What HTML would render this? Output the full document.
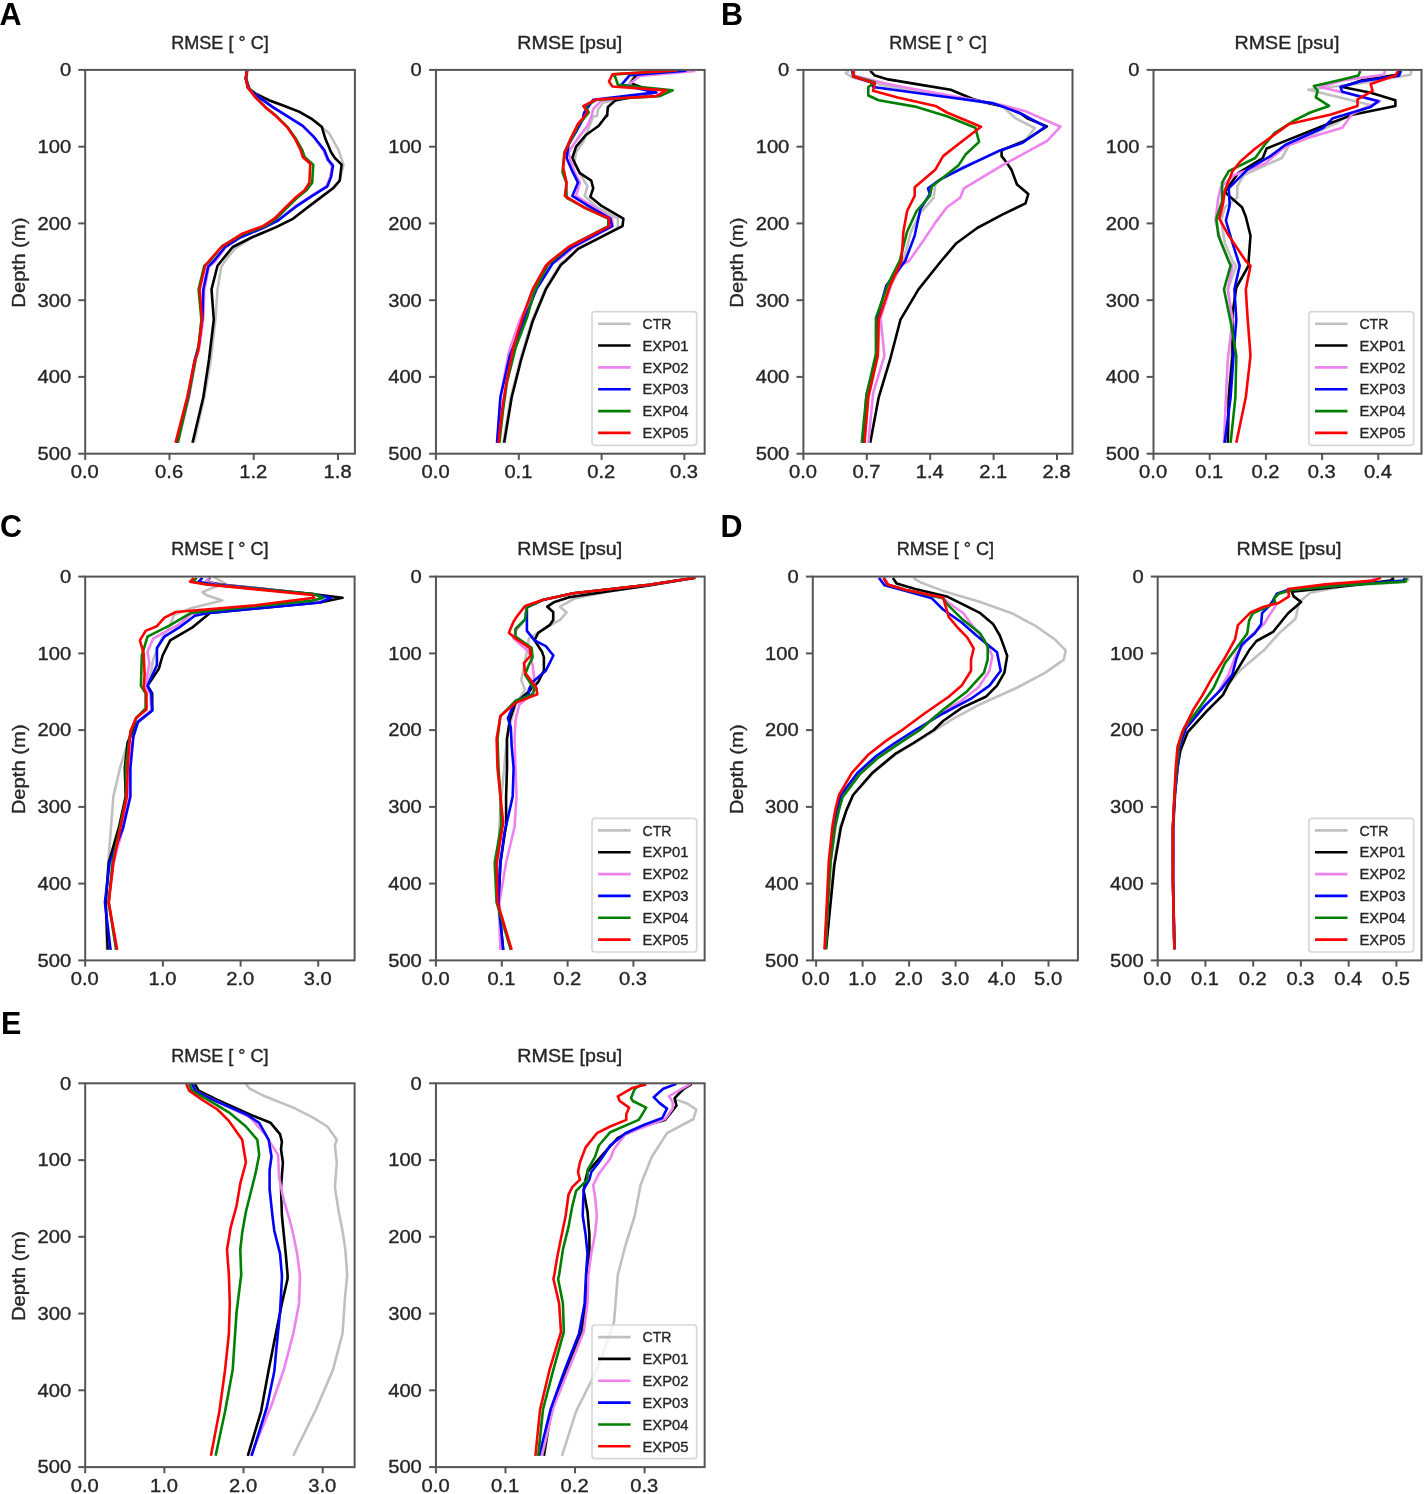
<!DOCTYPE html>
<html><head><meta charset="utf-8"><style>html,body{margin:0;padding:0;background:#fff;width:1426px;height:1494px;overflow:hidden}</style></head><body>
<svg width="1426" height="1494" viewBox="0 0 1426 1494" style="display:block;font-family:'Liberation Sans',sans-serif;will-change:transform">
<rect width="1426" height="1494" fill="#ffffff"/>
<text x="-0.6" y="24.5" font-size="30.5" font-weight="bold" fill="#000">A</text>
<text x="721.0" y="24.5" font-size="30.5" font-weight="bold" fill="#000">B</text>
<text x="0.0" y="537.4" font-size="30.5" font-weight="bold" fill="#000">C</text>
<text x="720.4" y="537.4" font-size="30.5" font-weight="bold" fill="#000">D</text>
<text x="1.0" y="1033.8" font-size="30.5" font-weight="bold" fill="#000">E</text>
<clipPath id="c_A_T"><rect x="85.2" y="69.9" width="269.7" height="383.8"/></clipPath>
<g clip-path="url(#c_A_T)" fill="none" stroke-width="2.6" stroke-linejoin="round" stroke-linecap="butt">
<path d="M247.5,70.9 L246.5,78.5 L248.8,87.9 L256.4,93.6 L269.6,100.2 L283.8,105.9 L300.8,112.5 L316.0,122.0 L329.2,133.4 L338.7,150.4 L343.5,164.6 L339.7,180.7 L333.0,188.3 L317.9,199.6 L306.5,208.2 L293.3,218.6 L276.2,227.1 L251.6,237.5 L234.6,248.9 L225.1,261.0 L221.3,266.7 L217.5,289.4 L215.6,317.8 L210.9,359.5 L204.3,397.3 L193.9,442.8" stroke="#c0c0c0"/>
<path d="M246.9,70.9 L245.9,78.5 L247.8,87.9 L255.4,93.6 L268.7,100.2 L281.9,105.0 L299.0,111.6 L312.2,119.2 L321.7,126.7 L325.5,139.1 L331.1,152.3 L334.9,158.0 L341.6,164.6 L339.7,180.7 L333.0,188.3 L317.9,199.6 L306.5,208.2 L293.3,218.6 L276.2,227.1 L251.6,237.5 L232.7,247.0 L221.3,261.0 L217.5,265.7 L211.5,289.4 L213.8,319.7 L209.0,359.5 L203.3,397.3 L192.5,442.8" stroke="#000000"/>
<path d="M246.9,70.9 L245.9,78.5 L249.7,89.8 L259.2,97.4 L272.4,106.9 L287.6,116.3 L302.7,125.8 L314.1,137.2 L323.6,150.4 L327.4,159.9 L332.1,165.6 L330.2,176.9 L326.4,186.4 L311.3,195.9 L294.2,207.2 L277.2,220.5 L262.0,228.0 L239.3,237.5 L225.1,247.9 L215.6,261.0 L209.0,266.7 L204.3,289.4 L203.3,317.8 L199.6,346.2 L195.8,359.5 L189.1,397.3 L177.8,442.8" stroke="#ee82ee"/>
<path d="M246.9,70.9 L245.9,78.5 L249.7,89.8 L259.2,97.4 L272.4,106.9 L287.6,116.3 L302.7,125.8 L314.1,137.2 L324.5,150.4 L328.3,159.9 L333.0,165.6 L331.1,176.9 L327.4,186.4 L312.2,195.9 L295.2,207.2 L278.1,220.5 L263.0,228.0 L240.3,237.5 L225.1,247.0 L213.8,261.0 L208.1,266.7 L203.3,289.4 L202.4,317.8 L198.6,346.2 L194.8,359.5 L188.2,397.3 L176.8,442.8" stroke="#0000ff"/>
<path d="M247.1,70.9 L245.8,78.5 L248.6,87.9 L255.8,97.4 L265.3,106.9 L276.6,116.3 L288.0,127.7 L296.1,139.1 L302.4,150.4 L304.6,157.0 L313.2,164.6 L312.2,182.6 L306.5,190.2 L297.1,197.8 L287.6,207.2 L276.2,218.6 L264.9,226.2 L244.0,233.7 L222.3,246.0 L210.0,261.0 L204.3,265.7 L198.6,289.4 L201.4,319.7 L198.6,346.2 L195.2,361.4 L188.2,397.3 L177.8,442.8" stroke="#008000"/>
<path d="M246.9,70.9 L245.6,78.5 L248.2,87.9 L255.4,97.4 L264.9,106.9 L276.2,116.3 L287.6,127.7 L295.2,139.1 L300.8,150.4 L302.7,157.0 L310.3,163.7 L309.4,182.6 L304.6,190.2 L295.2,197.8 L285.7,207.2 L274.3,218.6 L263.0,226.2 L242.2,233.7 L221.3,247.0 L209.0,261.0 L205.2,265.7 L199.6,289.4 L202.0,319.7 L198.0,351.9 L194.4,361.4 L187.2,397.3 L175.5,442.8" stroke="#ff0000"/>
</g>
<rect x="85.2" y="69.9" width="269.7" height="383.8" fill="none" stroke="#555555" stroke-width="2.0"/>
<line x1="78.3" y1="69.9" x2="85.2" y2="69.9" stroke="#555555" stroke-width="2.0"/>
<text x="71.1" y="76.2" font-size="17.6" text-anchor="end" fill="#262626" stroke="#262626" stroke-width="0.35" font-weight="normal" textLength="11.2" lengthAdjust="spacingAndGlyphs">0</text>
<line x1="78.3" y1="146.7" x2="85.2" y2="146.7" stroke="#555555" stroke-width="2.0"/>
<text x="71.1" y="153.0" font-size="17.6" text-anchor="end" fill="#262626" stroke="#262626" stroke-width="0.35" font-weight="normal" textLength="33.6" lengthAdjust="spacingAndGlyphs">100</text>
<line x1="78.3" y1="223.4" x2="85.2" y2="223.4" stroke="#555555" stroke-width="2.0"/>
<text x="71.1" y="229.7" font-size="17.6" text-anchor="end" fill="#262626" stroke="#262626" stroke-width="0.35" font-weight="normal" textLength="33.6" lengthAdjust="spacingAndGlyphs">200</text>
<line x1="78.3" y1="300.2" x2="85.2" y2="300.2" stroke="#555555" stroke-width="2.0"/>
<text x="71.1" y="306.5" font-size="17.6" text-anchor="end" fill="#262626" stroke="#262626" stroke-width="0.35" font-weight="normal" textLength="33.6" lengthAdjust="spacingAndGlyphs">300</text>
<line x1="78.3" y1="376.9" x2="85.2" y2="376.9" stroke="#555555" stroke-width="2.0"/>
<text x="71.1" y="383.2" font-size="17.6" text-anchor="end" fill="#262626" stroke="#262626" stroke-width="0.35" font-weight="normal" textLength="33.6" lengthAdjust="spacingAndGlyphs">400</text>
<line x1="78.3" y1="453.7" x2="85.2" y2="453.7" stroke="#555555" stroke-width="2.0"/>
<text x="71.1" y="460.0" font-size="17.6" text-anchor="end" fill="#262626" stroke="#262626" stroke-width="0.35" font-weight="normal" textLength="33.6" lengthAdjust="spacingAndGlyphs">500</text>
<line x1="85.2" y1="453.70000000000005" x2="85.2" y2="459.9" stroke="#555555" stroke-width="2.0"/>
<text x="84.8" y="478.1" font-size="17.6" text-anchor="middle" fill="#262626" stroke="#262626" stroke-width="0.35" font-weight="normal" textLength="28.0" lengthAdjust="spacingAndGlyphs">0.0</text>
<line x1="169.5" y1="453.70000000000005" x2="169.5" y2="459.9" stroke="#555555" stroke-width="2.0"/>
<text x="169.1" y="478.1" font-size="17.6" text-anchor="middle" fill="#262626" stroke="#262626" stroke-width="0.35" font-weight="normal" textLength="28.0" lengthAdjust="spacingAndGlyphs">0.6</text>
<line x1="253.7" y1="453.70000000000005" x2="253.7" y2="459.9" stroke="#555555" stroke-width="2.0"/>
<text x="253.3" y="478.1" font-size="17.6" text-anchor="middle" fill="#262626" stroke="#262626" stroke-width="0.35" font-weight="normal" textLength="28.0" lengthAdjust="spacingAndGlyphs">1.2</text>
<line x1="338.0" y1="453.70000000000005" x2="338.0" y2="459.9" stroke="#555555" stroke-width="2.0"/>
<text x="337.6" y="478.1" font-size="17.6" text-anchor="middle" fill="#262626" stroke="#262626" stroke-width="0.35" font-weight="normal" textLength="28.0" lengthAdjust="spacingAndGlyphs">1.8</text>
<text x="220.0" y="48.5" font-size="17.6" text-anchor="middle" fill="#262626" stroke="#262626" stroke-width="0.35" font-weight="normal" textLength="97.5" lengthAdjust="spacingAndGlyphs">RMSE [ ° C]</text>
<text x="0" y="0" font-size="17.6" fill="#262626" stroke="#262626" stroke-width="0.35" text-anchor="middle" textLength="90.1" lengthAdjust="spacingAndGlyphs" transform="translate(24.8,262.6) rotate(-90)">Depth (m)</text>
<clipPath id="c_A_S"><rect x="435.95" y="69.9" width="268.7" height="383.8"/></clipPath>
<g clip-path="url(#c_A_S)" fill="none" stroke-width="2.6" stroke-linejoin="round" stroke-linecap="butt">
<path d="M683.6,70.4 L634.3,75.6 L628.9,84.2 L654.4,92.4 L603.3,102.5 L597.9,109.8 L597.0,116.0 L593.2,116.3 L583.7,140.9 L576.1,152.3 L574.2,163.7 L581.8,176.9 L587.5,186.4 L584.6,195.9 L596.9,207.2 L617.8,218.6 L617.8,228.0 L578.0,248.9 L564.0,261.0 L560.0,264.8 L544.9,289.4 L531.6,321.6 L520.3,359.5 L510.8,397.3 L503.2,442.8" stroke="#c0c0c0"/>
<path d="M685.4,70.4 L636.2,75.1 L630.7,83.3 L655.3,92.4 L615.2,100.6 L607.9,107.0 L607.0,116.0 L607.4,114.4 L598.8,125.8 L585.6,135.3 L576.1,146.6 L572.3,158.0 L579.9,173.1 L591.3,180.7 L593.2,188.3 L590.3,196.8 L600.7,205.3 L623.4,218.6 L622.5,226.2 L578.0,248.9 L565.5,261.0 L561.0,264.8 L545.8,289.4 L532.6,321.6 L521.2,359.5 L511.7,397.3 L504.2,442.8" stroke="#000000"/>
<path d="M695.4,71.0 L639.8,76.0 L628.0,85.1 L657.1,92.4 L601.5,100.6 L593.3,108.8 L591.5,116.0 L587.5,125.8 L576.1,140.9 L568.5,152.3 L570.4,159.9 L574.2,171.2 L579.9,182.6 L576.1,195.9 L591.3,205.3 L612.1,218.6 L613.0,226.2 L574.2,247.0 L557.2,261.0 L549.6,263.8 L532.6,293.2 L519.3,321.6 L508.9,351.9 L500.4,397.3 L497.5,442.8" stroke="#ee82ee"/>
<path d="M686.3,70.6 L629.8,75.1 L621.6,84.7 L656.2,92.4 L593.3,99.7 L584.2,112.5 L583.3,116.0 L585.6,114.4 L576.1,131.5 L568.5,144.7 L566.6,158.0 L572.3,171.2 L578.0,182.6 L572.3,195.9 L587.5,205.3 L610.2,218.6 L612.1,226.2 L572.3,247.0 L555.3,261.0 L552.4,263.8 L536.4,289.4 L525.0,317.8 L509.8,355.7 L500.4,397.3 L497.0,442.8" stroke="#0000ff"/>
<path d="M677.6,70.4 L613.4,74.4 L615.2,76.9 L617.9,84.7 L672.6,90.4 L659.9,96.1 L597.0,99.7 L585.1,106.1 L588.8,112.5 L586.0,116.0 L579.0,123.9 L571.4,139.1 L564.4,152.3 L562.5,172.2 L566.3,182.6 L566.6,197.8 L583.7,207.2 L608.3,218.6 L608.3,226.2 L570.4,246.0 L552.4,261.0 L547.7,264.8 L534.5,291.3 L526.9,317.8 L515.5,348.1 L507.0,382.2 L503.2,408.7 L499.4,442.8" stroke="#008000"/>
<path d="M677.2,70.4 L612.5,74.2 L609.0,81.5 L612.5,86.5 L666.3,90.4 L656.2,96.1 L596.1,99.5 L583.3,106.1 L587.4,112.0 L584.7,116.0 L578.0,123.9 L570.4,139.1 L564.8,152.3 L563.2,167.5 L566.6,182.6 L564.8,195.9 L583.7,207.2 L609.2,218.6 L609.2,226.2 L568.5,247.0 L550.6,261.0 L545.8,265.7 L532.6,289.4 L523.1,315.9 L513.6,346.2 L506.1,384.1 L502.3,408.7 L498.5,442.8" stroke="#ff0000"/>
</g>
<rect x="435.95" y="69.9" width="268.7" height="383.8" fill="none" stroke="#555555" stroke-width="2.0"/>
<line x1="429.1" y1="69.9" x2="435.95" y2="69.9" stroke="#555555" stroke-width="2.0"/>
<text x="421.8" y="76.2" font-size="17.6" text-anchor="end" fill="#262626" stroke="#262626" stroke-width="0.35" font-weight="normal" textLength="11.2" lengthAdjust="spacingAndGlyphs">0</text>
<line x1="429.1" y1="146.7" x2="435.95" y2="146.7" stroke="#555555" stroke-width="2.0"/>
<text x="421.8" y="153.0" font-size="17.6" text-anchor="end" fill="#262626" stroke="#262626" stroke-width="0.35" font-weight="normal" textLength="33.6" lengthAdjust="spacingAndGlyphs">100</text>
<line x1="429.1" y1="223.4" x2="435.95" y2="223.4" stroke="#555555" stroke-width="2.0"/>
<text x="421.8" y="229.7" font-size="17.6" text-anchor="end" fill="#262626" stroke="#262626" stroke-width="0.35" font-weight="normal" textLength="33.6" lengthAdjust="spacingAndGlyphs">200</text>
<line x1="429.1" y1="300.2" x2="435.95" y2="300.2" stroke="#555555" stroke-width="2.0"/>
<text x="421.8" y="306.5" font-size="17.6" text-anchor="end" fill="#262626" stroke="#262626" stroke-width="0.35" font-weight="normal" textLength="33.6" lengthAdjust="spacingAndGlyphs">300</text>
<line x1="429.1" y1="376.9" x2="435.95" y2="376.9" stroke="#555555" stroke-width="2.0"/>
<text x="421.8" y="383.2" font-size="17.6" text-anchor="end" fill="#262626" stroke="#262626" stroke-width="0.35" font-weight="normal" textLength="33.6" lengthAdjust="spacingAndGlyphs">400</text>
<line x1="429.1" y1="453.7" x2="435.95" y2="453.7" stroke="#555555" stroke-width="2.0"/>
<text x="421.8" y="460.0" font-size="17.6" text-anchor="end" fill="#262626" stroke="#262626" stroke-width="0.35" font-weight="normal" textLength="33.6" lengthAdjust="spacingAndGlyphs">500</text>
<line x1="435.9" y1="453.70000000000005" x2="435.9" y2="459.9" stroke="#555555" stroke-width="2.0"/>
<text x="435.6" y="478.1" font-size="17.6" text-anchor="middle" fill="#262626" stroke="#262626" stroke-width="0.35" font-weight="normal" textLength="28.0" lengthAdjust="spacingAndGlyphs">0.0</text>
<line x1="518.8" y1="453.70000000000005" x2="518.8" y2="459.9" stroke="#555555" stroke-width="2.0"/>
<text x="518.4" y="478.1" font-size="17.6" text-anchor="middle" fill="#262626" stroke="#262626" stroke-width="0.35" font-weight="normal" textLength="28.0" lengthAdjust="spacingAndGlyphs">0.1</text>
<line x1="601.6" y1="453.70000000000005" x2="601.6" y2="459.9" stroke="#555555" stroke-width="2.0"/>
<text x="601.2" y="478.1" font-size="17.6" text-anchor="middle" fill="#262626" stroke="#262626" stroke-width="0.35" font-weight="normal" textLength="28.0" lengthAdjust="spacingAndGlyphs">0.2</text>
<line x1="684.4" y1="453.70000000000005" x2="684.4" y2="459.9" stroke="#555555" stroke-width="2.0"/>
<text x="684.0" y="478.1" font-size="17.6" text-anchor="middle" fill="#262626" stroke="#262626" stroke-width="0.35" font-weight="normal" textLength="28.0" lengthAdjust="spacingAndGlyphs">0.3</text>
<text x="569.8" y="48.5" font-size="17.6" text-anchor="middle" fill="#262626" stroke="#262626" stroke-width="0.35" font-weight="normal" textLength="105" lengthAdjust="spacingAndGlyphs">RMSE [psu]</text>
<rect x="592.0" y="311.6" width="104.7" height="133.7" rx="3" ry="3" fill="#ffffff" fill-opacity="0.8" stroke="#d8d8d8" stroke-width="1.7"/>
<line x1="598.1" y1="323.7" x2="630.6" y2="323.7" stroke="#c0c0c0" stroke-width="2.6"/>
<text x="642.5" y="328.9" font-size="14.4" text-anchor="start" fill="#262626" stroke="#262626" stroke-width="0.35" font-weight="normal" textLength="28.9" lengthAdjust="spacingAndGlyphs">CTR</text>
<line x1="598.1" y1="345.5" x2="630.6" y2="345.5" stroke="#000000" stroke-width="2.6"/>
<text x="642.5" y="350.7" font-size="14.4" text-anchor="start" fill="#262626" stroke="#262626" stroke-width="0.35" font-weight="normal" textLength="46.0" lengthAdjust="spacingAndGlyphs">EXP01</text>
<line x1="598.1" y1="367.4" x2="630.6" y2="367.4" stroke="#ee82ee" stroke-width="2.6"/>
<text x="642.5" y="372.6" font-size="14.4" text-anchor="start" fill="#262626" stroke="#262626" stroke-width="0.35" font-weight="normal" textLength="46.0" lengthAdjust="spacingAndGlyphs">EXP02</text>
<line x1="598.1" y1="389.2" x2="630.6" y2="389.2" stroke="#0000ff" stroke-width="2.6"/>
<text x="642.5" y="394.4" font-size="14.4" text-anchor="start" fill="#262626" stroke="#262626" stroke-width="0.35" font-weight="normal" textLength="46.0" lengthAdjust="spacingAndGlyphs">EXP03</text>
<line x1="598.1" y1="411.1" x2="630.6" y2="411.1" stroke="#008000" stroke-width="2.6"/>
<text x="642.5" y="416.3" font-size="14.4" text-anchor="start" fill="#262626" stroke="#262626" stroke-width="0.35" font-weight="normal" textLength="46.0" lengthAdjust="spacingAndGlyphs">EXP04</text>
<line x1="598.1" y1="432.9" x2="630.6" y2="432.9" stroke="#ff0000" stroke-width="2.6"/>
<text x="642.5" y="438.1" font-size="14.4" text-anchor="start" fill="#262626" stroke="#262626" stroke-width="0.35" font-weight="normal" textLength="46.0" lengthAdjust="spacingAndGlyphs">EXP05</text>
<clipPath id="c_B_T"><rect x="803.4" y="69.9" width="269.1" height="383.8"/></clipPath>
<g clip-path="url(#c_B_T)" fill="none" stroke-width="2.6" stroke-linejoin="round" stroke-linecap="butt">
<path d="M848.4,70.9 L845.6,73.2 L852.2,77.5 L886.3,86.0 L935.5,93.6 L1001.8,105.9 L1015.4,118.2 L1034.8,128.1 L1025.5,140.0 L1001.8,150.4 L962.0,167.5 L935.5,182.6 L933.6,197.8 L920.4,212.9 L910.9,231.8 L903.4,261.0 L891.0,285.6 L879.7,317.8 L877.8,355.7 L868.3,397.3 L864.5,442.8" stroke="#c0c0c0"/>
<path d="M870.2,70.9 L874.9,75.6 L888.2,79.4 L916.6,84.1 L950.7,89.8 L973.4,99.3 L989.9,103.6 L1004.5,106.7 L1020.2,113.1 L1027.2,118.2 L1046.9,126.4 L1023.6,141.5 L1001.6,150.2 L1001.6,156.1 L1006.2,162.0 L1011.3,169.4 L1017.0,184.5 L1028.3,194.0 L1025.5,203.4 L1001.8,214.8 L977.2,228.0 L956.4,243.2 L941.2,261.0 L918.5,289.4 L900.5,319.7 L890.1,359.5 L878.7,397.3 L870.2,442.8" stroke="#000000"/>
<path d="M854.1,70.9 L854.1,75.6 L884.4,83.2 L897.7,86.0 L1001.8,105.0 L1026.4,111.6 L1060.5,126.7 L1047.2,140.9 L1001.8,165.6 L963.9,188.3 L960.2,197.8 L946.9,207.2 L935.5,222.4 L924.2,239.4 L909.0,261.0 L901.5,264.8 L892.0,281.8 L880.6,317.8 L884.4,355.7 L873.1,393.5 L868.3,442.8" stroke="#ee82ee"/>
<path d="M852.2,70.9 L853.2,76.6 L871.2,82.3 L873.1,87.0 L935.5,95.5 L992.3,103.1 L1003.7,106.9 L1022.6,114.4 L1045.4,126.7 L1022.6,142.8 L999.9,150.4 L963.9,167.5 L941.2,178.8 L928.0,188.3 L929.9,194.0 L920.4,209.1 L914.7,235.6 L905.2,261.0 L886.3,285.6 L877.8,315.9 L876.8,355.7 L866.4,395.4 L863.6,442.8" stroke="#0000ff"/>
<path d="M853.2,70.9 L854.1,76.6 L874.9,82.3 L868.3,87.0 L868.3,95.5 L878.7,100.2 L916.6,106.9 L946.9,116.3 L975.3,127.7 L979.1,141.9 L965.8,154.2 L958.3,165.6 L931.8,186.4 L929.9,195.9 L916.6,211.0 L907.1,231.8 L899.6,261.0 L888.2,283.7 L875.9,317.8 L875.9,353.8 L866.4,395.4 L861.7,442.8" stroke="#008000"/>
<path d="M853.2,70.9 L853.2,76.6 L874.9,83.2 L873.1,90.8 L897.7,97.4 L935.5,105.9 L946.9,112.5 L981.0,126.7 L960.2,142.8 L943.1,156.1 L935.5,169.4 L914.7,187.3 L914.7,195.9 L907.1,211.0 L903.4,231.8 L901.5,261.0 L890.1,285.6 L878.7,319.7 L877.8,355.7 L868.3,397.3 L864.5,442.8" stroke="#ff0000"/>
</g>
<rect x="803.4" y="69.9" width="269.1" height="383.8" fill="none" stroke="#555555" stroke-width="2.0"/>
<line x1="796.5" y1="69.9" x2="803.4" y2="69.9" stroke="#555555" stroke-width="2.0"/>
<text x="789.3" y="76.2" font-size="17.6" text-anchor="end" fill="#262626" stroke="#262626" stroke-width="0.35" font-weight="normal" textLength="11.2" lengthAdjust="spacingAndGlyphs">0</text>
<line x1="796.5" y1="146.7" x2="803.4" y2="146.7" stroke="#555555" stroke-width="2.0"/>
<text x="789.3" y="153.0" font-size="17.6" text-anchor="end" fill="#262626" stroke="#262626" stroke-width="0.35" font-weight="normal" textLength="33.6" lengthAdjust="spacingAndGlyphs">100</text>
<line x1="796.5" y1="223.4" x2="803.4" y2="223.4" stroke="#555555" stroke-width="2.0"/>
<text x="789.3" y="229.7" font-size="17.6" text-anchor="end" fill="#262626" stroke="#262626" stroke-width="0.35" font-weight="normal" textLength="33.6" lengthAdjust="spacingAndGlyphs">200</text>
<line x1="796.5" y1="300.2" x2="803.4" y2="300.2" stroke="#555555" stroke-width="2.0"/>
<text x="789.3" y="306.5" font-size="17.6" text-anchor="end" fill="#262626" stroke="#262626" stroke-width="0.35" font-weight="normal" textLength="33.6" lengthAdjust="spacingAndGlyphs">300</text>
<line x1="796.5" y1="376.9" x2="803.4" y2="376.9" stroke="#555555" stroke-width="2.0"/>
<text x="789.3" y="383.2" font-size="17.6" text-anchor="end" fill="#262626" stroke="#262626" stroke-width="0.35" font-weight="normal" textLength="33.6" lengthAdjust="spacingAndGlyphs">400</text>
<line x1="796.5" y1="453.7" x2="803.4" y2="453.7" stroke="#555555" stroke-width="2.0"/>
<text x="789.3" y="460.0" font-size="17.6" text-anchor="end" fill="#262626" stroke="#262626" stroke-width="0.35" font-weight="normal" textLength="33.6" lengthAdjust="spacingAndGlyphs">500</text>
<line x1="803.4" y1="453.70000000000005" x2="803.4" y2="459.9" stroke="#555555" stroke-width="2.0"/>
<text x="803.0" y="478.1" font-size="17.6" text-anchor="middle" fill="#262626" stroke="#262626" stroke-width="0.35" font-weight="normal" textLength="28.0" lengthAdjust="spacingAndGlyphs">0.0</text>
<line x1="866.8" y1="453.70000000000005" x2="866.8" y2="459.9" stroke="#555555" stroke-width="2.0"/>
<text x="866.4" y="478.1" font-size="17.6" text-anchor="middle" fill="#262626" stroke="#262626" stroke-width="0.35" font-weight="normal" textLength="28.0" lengthAdjust="spacingAndGlyphs">0.7</text>
<line x1="930.2" y1="453.70000000000005" x2="930.2" y2="459.9" stroke="#555555" stroke-width="2.0"/>
<text x="929.8" y="478.1" font-size="17.6" text-anchor="middle" fill="#262626" stroke="#262626" stroke-width="0.35" font-weight="normal" textLength="28.0" lengthAdjust="spacingAndGlyphs">1.4</text>
<line x1="993.6" y1="453.70000000000005" x2="993.6" y2="459.9" stroke="#555555" stroke-width="2.0"/>
<text x="993.2" y="478.1" font-size="17.6" text-anchor="middle" fill="#262626" stroke="#262626" stroke-width="0.35" font-weight="normal" textLength="28.0" lengthAdjust="spacingAndGlyphs">2.1</text>
<line x1="1057.0" y1="453.70000000000005" x2="1057.0" y2="459.9" stroke="#555555" stroke-width="2.0"/>
<text x="1056.6" y="478.1" font-size="17.6" text-anchor="middle" fill="#262626" stroke="#262626" stroke-width="0.35" font-weight="normal" textLength="28.0" lengthAdjust="spacingAndGlyphs">2.8</text>
<text x="938.0" y="48.5" font-size="17.6" text-anchor="middle" fill="#262626" stroke="#262626" stroke-width="0.35" font-weight="normal" textLength="97.5" lengthAdjust="spacingAndGlyphs">RMSE [ ° C]</text>
<text x="0" y="0" font-size="17.6" fill="#262626" stroke="#262626" stroke-width="0.35" text-anchor="middle" textLength="90.1" lengthAdjust="spacingAndGlyphs" transform="translate(743.0,262.6) rotate(-90)">Depth (m)</text>
<clipPath id="c_B_S"><rect x="1153.5" y="69.9" width="268.0" height="383.8"/></clipPath>
<g clip-path="url(#c_B_S)" fill="none" stroke-width="2.6" stroke-linejoin="round" stroke-linecap="butt">
<path d="M1411.5,70.9 L1410.5,74.7 L1361.3,83.2 L1308.3,89.8 L1370.7,105.0 L1349.9,114.4 L1338.6,122.0 L1289.3,144.7 L1281.8,158.0 L1243.9,175.0 L1237.3,186.4 L1237.3,197.8 L1224.9,207.2 L1221.2,220.5 L1224.9,243.2 L1232.5,261.0 L1236.3,265.7 L1227.8,289.4 L1232.5,319.7 L1231.6,355.7 L1228.7,397.3 L1227.8,442.8" stroke="#c0c0c0"/>
<path d="M1399.1,70.9 L1397.2,74.7 L1361.3,80.4 L1342.3,87.0 L1370.7,92.7 L1395.4,100.2 L1395.4,105.9 L1353.7,114.4 L1323.4,125.8 L1285.5,140.9 L1266.6,148.5 L1262.8,158.0 L1238.2,173.1 L1224.9,192.1 L1242.0,207.2 L1245.8,216.7 L1250.5,235.6 L1248.6,261.0 L1248.6,265.7 L1236.3,287.5 L1232.5,314.0 L1232.5,355.7 L1228.7,397.3 L1227.8,442.8" stroke="#000000"/>
<path d="M1384.9,70.9 L1384.0,74.7 L1342.3,80.4 L1319.6,87.0 L1340.4,91.7 L1380.2,101.2 L1351.8,114.4 L1342.3,127.7 L1310.2,137.2 L1285.5,146.6 L1264.7,163.7 L1234.4,175.0 L1221.2,186.4 L1218.3,197.8 L1215.5,220.5 L1221.2,243.2 L1228.7,261.0 L1232.5,265.7 L1227.8,289.4 L1232.5,319.7 L1227.8,359.5 L1225.9,397.3 L1224.0,442.8" stroke="#ee82ee"/>
<path d="M1401.0,70.9 L1399.1,75.6 L1361.3,81.3 L1340.4,87.0 L1342.3,91.7 L1378.3,101.2 L1370.7,106.9 L1332.9,118.2 L1323.4,127.7 L1285.5,144.7 L1270.4,156.1 L1247.7,169.4 L1228.7,188.3 L1229.7,205.3 L1225.9,220.5 L1232.5,243.2 L1238.2,261.0 L1239.7,265.7 L1234.4,289.4 L1236.3,319.7 L1233.5,355.7 L1230.6,397.3 L1224.6,442.8" stroke="#0000ff"/>
<path d="M1360.3,70.9 L1358.4,75.6 L1342.3,79.4 L1313.9,86.0 L1317.7,90.8 L1315.8,97.4 L1329.1,105.9 L1310.2,112.5 L1295.0,120.1 L1274.2,133.4 L1264.7,144.7 L1255.2,158.0 L1228.7,171.2 L1222.1,182.6 L1222.1,201.5 L1216.4,218.6 L1218.3,235.6 L1228.7,261.0 L1230.6,265.7 L1224.0,289.4 L1230.6,321.6 L1236.3,355.7 L1235.4,397.3 L1230.6,442.8" stroke="#008000"/>
<path d="M1398.2,70.9 L1395.4,75.6 L1370.7,84.1 L1372.6,90.8 L1357.5,99.3 L1357.5,105.9 L1331.0,114.4 L1289.3,123.9 L1276.1,133.4 L1255.2,148.5 L1240.1,161.8 L1232.5,171.2 L1224.9,190.2 L1223.1,203.4 L1219.3,218.6 L1228.7,235.6 L1245.8,261.0 L1250.5,265.7 L1245.8,289.4 L1247.7,319.7 L1250.5,355.7 L1245.8,397.3 L1236.3,442.8" stroke="#ff0000"/>
</g>
<rect x="1153.5" y="69.9" width="268.0" height="383.8" fill="none" stroke="#555555" stroke-width="2.0"/>
<line x1="1146.6" y1="69.9" x2="1153.5" y2="69.9" stroke="#555555" stroke-width="2.0"/>
<text x="1139.4" y="76.2" font-size="17.6" text-anchor="end" fill="#262626" stroke="#262626" stroke-width="0.35" font-weight="normal" textLength="11.2" lengthAdjust="spacingAndGlyphs">0</text>
<line x1="1146.6" y1="146.7" x2="1153.5" y2="146.7" stroke="#555555" stroke-width="2.0"/>
<text x="1139.4" y="153.0" font-size="17.6" text-anchor="end" fill="#262626" stroke="#262626" stroke-width="0.35" font-weight="normal" textLength="33.6" lengthAdjust="spacingAndGlyphs">100</text>
<line x1="1146.6" y1="223.4" x2="1153.5" y2="223.4" stroke="#555555" stroke-width="2.0"/>
<text x="1139.4" y="229.7" font-size="17.6" text-anchor="end" fill="#262626" stroke="#262626" stroke-width="0.35" font-weight="normal" textLength="33.6" lengthAdjust="spacingAndGlyphs">200</text>
<line x1="1146.6" y1="300.2" x2="1153.5" y2="300.2" stroke="#555555" stroke-width="2.0"/>
<text x="1139.4" y="306.5" font-size="17.6" text-anchor="end" fill="#262626" stroke="#262626" stroke-width="0.35" font-weight="normal" textLength="33.6" lengthAdjust="spacingAndGlyphs">300</text>
<line x1="1146.6" y1="376.9" x2="1153.5" y2="376.9" stroke="#555555" stroke-width="2.0"/>
<text x="1139.4" y="383.2" font-size="17.6" text-anchor="end" fill="#262626" stroke="#262626" stroke-width="0.35" font-weight="normal" textLength="33.6" lengthAdjust="spacingAndGlyphs">400</text>
<line x1="1146.6" y1="453.7" x2="1153.5" y2="453.7" stroke="#555555" stroke-width="2.0"/>
<text x="1139.4" y="460.0" font-size="17.6" text-anchor="end" fill="#262626" stroke="#262626" stroke-width="0.35" font-weight="normal" textLength="33.6" lengthAdjust="spacingAndGlyphs">500</text>
<line x1="1153.5" y1="453.70000000000005" x2="1153.5" y2="459.9" stroke="#555555" stroke-width="2.0"/>
<text x="1153.1" y="478.1" font-size="17.6" text-anchor="middle" fill="#262626" stroke="#262626" stroke-width="0.35" font-weight="normal" textLength="28.0" lengthAdjust="spacingAndGlyphs">0.0</text>
<line x1="1209.7" y1="453.70000000000005" x2="1209.7" y2="459.9" stroke="#555555" stroke-width="2.0"/>
<text x="1209.3" y="478.1" font-size="17.6" text-anchor="middle" fill="#262626" stroke="#262626" stroke-width="0.35" font-weight="normal" textLength="28.0" lengthAdjust="spacingAndGlyphs">0.1</text>
<line x1="1265.9" y1="453.70000000000005" x2="1265.9" y2="459.9" stroke="#555555" stroke-width="2.0"/>
<text x="1265.5" y="478.1" font-size="17.6" text-anchor="middle" fill="#262626" stroke="#262626" stroke-width="0.35" font-weight="normal" textLength="28.0" lengthAdjust="spacingAndGlyphs">0.2</text>
<line x1="1322.1" y1="453.70000000000005" x2="1322.1" y2="459.9" stroke="#555555" stroke-width="2.0"/>
<text x="1321.7" y="478.1" font-size="17.6" text-anchor="middle" fill="#262626" stroke="#262626" stroke-width="0.35" font-weight="normal" textLength="28.0" lengthAdjust="spacingAndGlyphs">0.3</text>
<line x1="1378.3" y1="453.70000000000005" x2="1378.3" y2="459.9" stroke="#555555" stroke-width="2.0"/>
<text x="1377.9" y="478.1" font-size="17.6" text-anchor="middle" fill="#262626" stroke="#262626" stroke-width="0.35" font-weight="normal" textLength="28.0" lengthAdjust="spacingAndGlyphs">0.4</text>
<text x="1287.0" y="48.5" font-size="17.6" text-anchor="middle" fill="#262626" stroke="#262626" stroke-width="0.35" font-weight="normal" textLength="105" lengthAdjust="spacingAndGlyphs">RMSE [psu]</text>
<rect x="1308.9" y="311.6" width="104.7" height="133.7" rx="3" ry="3" fill="#ffffff" fill-opacity="0.8" stroke="#d8d8d8" stroke-width="1.7"/>
<line x1="1315.0" y1="323.7" x2="1347.5" y2="323.7" stroke="#c0c0c0" stroke-width="2.6"/>
<text x="1359.4" y="328.9" font-size="14.4" text-anchor="start" fill="#262626" stroke="#262626" stroke-width="0.35" font-weight="normal" textLength="28.9" lengthAdjust="spacingAndGlyphs">CTR</text>
<line x1="1315.0" y1="345.5" x2="1347.5" y2="345.5" stroke="#000000" stroke-width="2.6"/>
<text x="1359.4" y="350.7" font-size="14.4" text-anchor="start" fill="#262626" stroke="#262626" stroke-width="0.35" font-weight="normal" textLength="46.0" lengthAdjust="spacingAndGlyphs">EXP01</text>
<line x1="1315.0" y1="367.4" x2="1347.5" y2="367.4" stroke="#ee82ee" stroke-width="2.6"/>
<text x="1359.4" y="372.6" font-size="14.4" text-anchor="start" fill="#262626" stroke="#262626" stroke-width="0.35" font-weight="normal" textLength="46.0" lengthAdjust="spacingAndGlyphs">EXP02</text>
<line x1="1315.0" y1="389.2" x2="1347.5" y2="389.2" stroke="#0000ff" stroke-width="2.6"/>
<text x="1359.4" y="394.4" font-size="14.4" text-anchor="start" fill="#262626" stroke="#262626" stroke-width="0.35" font-weight="normal" textLength="46.0" lengthAdjust="spacingAndGlyphs">EXP03</text>
<line x1="1315.0" y1="411.1" x2="1347.5" y2="411.1" stroke="#008000" stroke-width="2.6"/>
<text x="1359.4" y="416.3" font-size="14.4" text-anchor="start" fill="#262626" stroke="#262626" stroke-width="0.35" font-weight="normal" textLength="46.0" lengthAdjust="spacingAndGlyphs">EXP04</text>
<line x1="1315.0" y1="432.9" x2="1347.5" y2="432.9" stroke="#ff0000" stroke-width="2.6"/>
<text x="1359.4" y="438.1" font-size="14.4" text-anchor="start" fill="#262626" stroke="#262626" stroke-width="0.35" font-weight="normal" textLength="46.0" lengthAdjust="spacingAndGlyphs">EXP05</text>
<clipPath id="c_C_T"><rect x="85.2" y="576.6" width="269.4" height="383.8"/></clipPath>
<g clip-path="url(#c_C_T)" fill="none" stroke-width="2.6" stroke-linejoin="round" stroke-linecap="butt">
<path d="M213.8,576.9 L225.1,583.6 L213.8,587.4 L202.4,592.1 L206.2,594.9 L222.3,600.6 L191.0,608.2 L174.0,614.8 L170.2,625.2 L160.7,640.4 L153.2,659.3 L151.3,670.7 L147.5,685.8 L151.3,693.4 L151.3,710.4 L137.1,721.8 L128.5,740.7 L120.0,768.0 L113.4,796.4 L108.7,857.0 L105.8,902.4 L106.8,949.8" stroke="#c0c0c0"/>
<path d="M210.0,577.9 L206.2,581.7 L221.3,584.5 L312.2,594.0 L342.5,597.8 L319.8,602.5 L210.0,612.9 L192.9,627.1 L170.2,640.4 L162.6,655.5 L158.8,668.8 L147.5,685.8 L152.2,693.4 L152.2,710.4 L136.1,723.7 L127.6,742.6 L124.8,768.0 L125.7,796.4 L119.1,826.7 L108.7,862.7 L105.8,902.4 L107.7,949.8" stroke="#000000"/>
<path d="M209.0,577.9 L206.2,581.7 L217.5,584.5 L312.2,594.0 L323.6,597.8 L312.2,601.6 L191.0,613.9 L183.5,620.5 L177.8,625.2 L153.2,638.5 L147.5,651.7 L149.4,663.1 L145.6,685.8 L150.3,693.4 L151.3,710.4 L138.0,721.8 L133.3,736.9 L129.5,768.0 L127.6,796.4 L122.9,828.6 L113.4,862.7 L108.7,902.4 L116.2,949.8" stroke="#ee82ee"/>
<path d="M202.4,577.9 L198.6,581.7 L213.8,584.5 L312.2,594.0 L331.1,597.8 L319.8,602.5 L208.1,612.9 L194.8,615.8 L179.7,627.1 L164.5,636.6 L156.9,647.9 L156.9,665.0 L147.5,685.8 L151.3,693.4 L152.2,710.4 L138.0,721.8 L133.3,736.9 L130.4,768.0 L130.4,796.4 L122.9,828.6 L109.6,862.7 L104.9,902.4 L110.6,949.8" stroke="#0000ff"/>
<path d="M196.7,577.9 L192.9,581.7 L208.1,584.5 L314.1,594.0 L323.6,597.8 L312.2,600.6 L191.0,612.9 L170.2,625.2 L147.5,636.6 L141.8,655.5 L140.9,685.8 L145.6,693.4 L145.6,708.5 L136.1,718.0 L129.5,736.9 L125.7,768.0 L126.3,796.4 L120.0,826.7 L112.5,862.7 L108.7,902.4 L116.2,949.8" stroke="#008000"/>
<path d="M193.9,577.9 L190.1,581.7 L206.2,584.5 L236.5,587.4 L312.2,594.9 L314.1,597.8 L255.4,605.3 L175.9,612.0 L164.5,617.7 L156.9,626.2 L145.6,630.9 L139.9,640.4 L143.7,653.6 L144.6,674.5 L143.7,687.7 L146.5,693.4 L146.5,709.5 L136.1,718.0 L130.4,731.3 L127.6,768.0 L126.7,796.4 L121.0,824.8 L113.4,862.7 L108.7,902.4 L117.2,949.8" stroke="#ff0000"/>
</g>
<rect x="85.2" y="576.6" width="269.4" height="383.8" fill="none" stroke="#555555" stroke-width="2.0"/>
<line x1="78.3" y1="576.6" x2="85.2" y2="576.6" stroke="#555555" stroke-width="2.0"/>
<text x="71.1" y="582.9" font-size="17.6" text-anchor="end" fill="#262626" stroke="#262626" stroke-width="0.35" font-weight="normal" textLength="11.2" lengthAdjust="spacingAndGlyphs">0</text>
<line x1="78.3" y1="653.4" x2="85.2" y2="653.4" stroke="#555555" stroke-width="2.0"/>
<text x="71.1" y="659.7" font-size="17.6" text-anchor="end" fill="#262626" stroke="#262626" stroke-width="0.35" font-weight="normal" textLength="33.6" lengthAdjust="spacingAndGlyphs">100</text>
<line x1="78.3" y1="730.1" x2="85.2" y2="730.1" stroke="#555555" stroke-width="2.0"/>
<text x="71.1" y="736.4" font-size="17.6" text-anchor="end" fill="#262626" stroke="#262626" stroke-width="0.35" font-weight="normal" textLength="33.6" lengthAdjust="spacingAndGlyphs">200</text>
<line x1="78.3" y1="806.9" x2="85.2" y2="806.9" stroke="#555555" stroke-width="2.0"/>
<text x="71.1" y="813.2" font-size="17.6" text-anchor="end" fill="#262626" stroke="#262626" stroke-width="0.35" font-weight="normal" textLength="33.6" lengthAdjust="spacingAndGlyphs">300</text>
<line x1="78.3" y1="883.6" x2="85.2" y2="883.6" stroke="#555555" stroke-width="2.0"/>
<text x="71.1" y="889.9" font-size="17.6" text-anchor="end" fill="#262626" stroke="#262626" stroke-width="0.35" font-weight="normal" textLength="33.6" lengthAdjust="spacingAndGlyphs">400</text>
<line x1="78.3" y1="960.4" x2="85.2" y2="960.4" stroke="#555555" stroke-width="2.0"/>
<text x="71.1" y="966.7" font-size="17.6" text-anchor="end" fill="#262626" stroke="#262626" stroke-width="0.35" font-weight="normal" textLength="33.6" lengthAdjust="spacingAndGlyphs">500</text>
<line x1="85.2" y1="960.4000000000001" x2="85.2" y2="966.6" stroke="#555555" stroke-width="2.0"/>
<text x="84.8" y="984.8" font-size="17.6" text-anchor="middle" fill="#262626" stroke="#262626" stroke-width="0.35" font-weight="normal" textLength="28.0" lengthAdjust="spacingAndGlyphs">0.0</text>
<line x1="162.9" y1="960.4000000000001" x2="162.9" y2="966.6" stroke="#555555" stroke-width="2.0"/>
<text x="162.5" y="984.8" font-size="17.6" text-anchor="middle" fill="#262626" stroke="#262626" stroke-width="0.35" font-weight="normal" textLength="28.0" lengthAdjust="spacingAndGlyphs">1.0</text>
<line x1="240.6" y1="960.4000000000001" x2="240.6" y2="966.6" stroke="#555555" stroke-width="2.0"/>
<text x="240.2" y="984.8" font-size="17.6" text-anchor="middle" fill="#262626" stroke="#262626" stroke-width="0.35" font-weight="normal" textLength="28.0" lengthAdjust="spacingAndGlyphs">2.0</text>
<line x1="318.2" y1="960.4000000000001" x2="318.2" y2="966.6" stroke="#555555" stroke-width="2.0"/>
<text x="317.8" y="984.8" font-size="17.6" text-anchor="middle" fill="#262626" stroke="#262626" stroke-width="0.35" font-weight="normal" textLength="28.0" lengthAdjust="spacingAndGlyphs">3.0</text>
<text x="219.9" y="555.2" font-size="17.6" text-anchor="middle" fill="#262626" stroke="#262626" stroke-width="0.35" font-weight="normal" textLength="97.5" lengthAdjust="spacingAndGlyphs">RMSE [ ° C]</text>
<text x="0" y="0" font-size="17.6" fill="#262626" stroke="#262626" stroke-width="0.35" text-anchor="middle" textLength="90.1" lengthAdjust="spacingAndGlyphs" transform="translate(24.8,769.3) rotate(-90)">Depth (m)</text>
<clipPath id="c_C_S"><rect x="435.95" y="576.6" width="268.7" height="383.8"/></clipPath>
<g clip-path="url(#c_C_S)" fill="none" stroke-width="2.6" stroke-linejoin="round" stroke-linecap="butt">
<path d="M695.2,577.7 L649.0,585.5 L609.2,591.5 L574.6,598.5 L560.0,606.7 L566.6,612.5 L560.0,619.9 L543.9,629.0 L528.8,638.5 L526.9,651.7 L523.1,670.7 L521.2,680.1 L525.0,689.6 L515.5,704.8 L511.7,718.0 L507.0,736.9 L504.2,768.0 L501.3,796.4 L499.4,824.8 L498.5,862.7 L498.5,902.4 L500.4,949.8" stroke="#c0c0c0"/>
<path d="M695.2,577.7 L649.0,585.5 L609.2,591.1 L569.3,597.2 L554.5,601.9 L547.3,606.7 L553.2,612.0 L553.2,619.9 L549.6,625.2 L538.2,632.8 L534.5,640.4 L542.0,651.7 L543.9,657.4 L543.9,670.7 L538.2,682.0 L528.8,691.5 L515.5,702.9 L509.8,719.9 L507.0,738.8 L507.0,768.0 L506.1,796.4 L506.1,824.8 L500.4,862.7 L498.5,902.4 L503.2,949.8" stroke="#000000"/>
<path d="M695.2,577.7 L649.0,584.7 L609.2,589.3 L573.3,593.2 L542.6,600.0 L526.5,607.2 L525.0,619.5 L515.5,630.9 L513.6,638.5 L528.8,651.7 L532.6,665.0 L534.5,682.0 L532.6,693.4 L519.3,704.8 L515.5,719.9 L514.6,738.8 L515.5,768.0 L516.5,796.4 L514.6,826.7 L506.1,862.7 L499.4,902.4 L500.4,949.8" stroke="#ee82ee"/>
<path d="M695.2,577.7 L649.0,584.7 L609.2,589.3 L573.3,593.2 L542.6,600.0 L526.9,607.2 L526.9,630.9 L534.5,640.4 L545.8,646.1 L553.4,655.5 L545.8,670.7 L532.6,682.0 L528.8,689.6 L528.8,695.3 L515.5,701.0 L507.9,718.0 L510.8,727.5 L511.7,746.4 L513.6,768.0 L512.7,796.4 L504.2,834.3 L500.4,862.7 L498.5,902.4 L503.2,949.8" stroke="#0000ff"/>
<path d="M695.2,577.7 L649.0,584.7 L609.2,589.3 L573.3,593.2 L542.6,600.0 L526.9,607.2 L525.0,619.5 L515.5,629.0 L515.5,636.6 L531.6,647.9 L532.6,657.4 L528.8,665.0 L525.0,674.5 L534.5,689.6 L532.6,694.3 L515.5,701.0 L500.4,716.1 L497.5,738.8 L498.5,768.0 L500.4,796.4 L501.3,824.8 L494.7,862.7 L496.6,902.4 L510.8,949.8" stroke="#008000"/>
<path d="M695.2,577.7 L649.0,584.7 L609.2,589.3 L573.3,593.2 L542.6,600.0 L525.2,605.9 L517.4,615.8 L513.6,621.4 L508.9,632.8 L515.5,638.5 L529.7,647.9 L530.7,655.5 L524.0,663.1 L525.0,672.6 L536.4,687.7 L537.3,694.3 L515.5,702.9 L500.4,716.1 L496.6,738.8 L497.5,768.0 L500.4,796.4 L503.2,822.9 L496.6,862.7 L497.5,902.4 L511.7,949.8" stroke="#ff0000"/>
</g>
<rect x="435.95" y="576.6" width="268.7" height="383.8" fill="none" stroke="#555555" stroke-width="2.0"/>
<line x1="429.1" y1="576.6" x2="435.95" y2="576.6" stroke="#555555" stroke-width="2.0"/>
<text x="421.8" y="582.9" font-size="17.6" text-anchor="end" fill="#262626" stroke="#262626" stroke-width="0.35" font-weight="normal" textLength="11.2" lengthAdjust="spacingAndGlyphs">0</text>
<line x1="429.1" y1="653.4" x2="435.95" y2="653.4" stroke="#555555" stroke-width="2.0"/>
<text x="421.8" y="659.7" font-size="17.6" text-anchor="end" fill="#262626" stroke="#262626" stroke-width="0.35" font-weight="normal" textLength="33.6" lengthAdjust="spacingAndGlyphs">100</text>
<line x1="429.1" y1="730.1" x2="435.95" y2="730.1" stroke="#555555" stroke-width="2.0"/>
<text x="421.8" y="736.4" font-size="17.6" text-anchor="end" fill="#262626" stroke="#262626" stroke-width="0.35" font-weight="normal" textLength="33.6" lengthAdjust="spacingAndGlyphs">200</text>
<line x1="429.1" y1="806.9" x2="435.95" y2="806.9" stroke="#555555" stroke-width="2.0"/>
<text x="421.8" y="813.2" font-size="17.6" text-anchor="end" fill="#262626" stroke="#262626" stroke-width="0.35" font-weight="normal" textLength="33.6" lengthAdjust="spacingAndGlyphs">300</text>
<line x1="429.1" y1="883.6" x2="435.95" y2="883.6" stroke="#555555" stroke-width="2.0"/>
<text x="421.8" y="889.9" font-size="17.6" text-anchor="end" fill="#262626" stroke="#262626" stroke-width="0.35" font-weight="normal" textLength="33.6" lengthAdjust="spacingAndGlyphs">400</text>
<line x1="429.1" y1="960.4" x2="435.95" y2="960.4" stroke="#555555" stroke-width="2.0"/>
<text x="421.8" y="966.7" font-size="17.6" text-anchor="end" fill="#262626" stroke="#262626" stroke-width="0.35" font-weight="normal" textLength="33.6" lengthAdjust="spacingAndGlyphs">500</text>
<line x1="435.9" y1="960.4000000000001" x2="435.9" y2="966.6" stroke="#555555" stroke-width="2.0"/>
<text x="435.6" y="984.8" font-size="17.6" text-anchor="middle" fill="#262626" stroke="#262626" stroke-width="0.35" font-weight="normal" textLength="28.0" lengthAdjust="spacingAndGlyphs">0.0</text>
<line x1="501.8" y1="960.4000000000001" x2="501.8" y2="966.6" stroke="#555555" stroke-width="2.0"/>
<text x="501.4" y="984.8" font-size="17.6" text-anchor="middle" fill="#262626" stroke="#262626" stroke-width="0.35" font-weight="normal" textLength="28.0" lengthAdjust="spacingAndGlyphs">0.1</text>
<line x1="567.6" y1="960.4000000000001" x2="567.6" y2="966.6" stroke="#555555" stroke-width="2.0"/>
<text x="567.2" y="984.8" font-size="17.6" text-anchor="middle" fill="#262626" stroke="#262626" stroke-width="0.35" font-weight="normal" textLength="28.0" lengthAdjust="spacingAndGlyphs">0.2</text>
<line x1="633.4" y1="960.4000000000001" x2="633.4" y2="966.6" stroke="#555555" stroke-width="2.0"/>
<text x="633.0" y="984.8" font-size="17.6" text-anchor="middle" fill="#262626" stroke="#262626" stroke-width="0.35" font-weight="normal" textLength="28.0" lengthAdjust="spacingAndGlyphs">0.3</text>
<text x="569.8" y="555.2" font-size="17.6" text-anchor="middle" fill="#262626" stroke="#262626" stroke-width="0.35" font-weight="normal" textLength="105" lengthAdjust="spacingAndGlyphs">RMSE [psu]</text>
<rect x="592.0" y="818.3" width="104.7" height="133.7" rx="3" ry="3" fill="#ffffff" fill-opacity="0.8" stroke="#d8d8d8" stroke-width="1.7"/>
<line x1="598.1" y1="830.4" x2="630.6" y2="830.4" stroke="#c0c0c0" stroke-width="2.6"/>
<text x="642.5" y="835.6" font-size="14.4" text-anchor="start" fill="#262626" stroke="#262626" stroke-width="0.35" font-weight="normal" textLength="28.9" lengthAdjust="spacingAndGlyphs">CTR</text>
<line x1="598.1" y1="852.2" x2="630.6" y2="852.2" stroke="#000000" stroke-width="2.6"/>
<text x="642.5" y="857.4" font-size="14.4" text-anchor="start" fill="#262626" stroke="#262626" stroke-width="0.35" font-weight="normal" textLength="46.0" lengthAdjust="spacingAndGlyphs">EXP01</text>
<line x1="598.1" y1="874.1" x2="630.6" y2="874.1" stroke="#ee82ee" stroke-width="2.6"/>
<text x="642.5" y="879.3" font-size="14.4" text-anchor="start" fill="#262626" stroke="#262626" stroke-width="0.35" font-weight="normal" textLength="46.0" lengthAdjust="spacingAndGlyphs">EXP02</text>
<line x1="598.1" y1="895.9" x2="630.6" y2="895.9" stroke="#0000ff" stroke-width="2.6"/>
<text x="642.5" y="901.1" font-size="14.4" text-anchor="start" fill="#262626" stroke="#262626" stroke-width="0.35" font-weight="normal" textLength="46.0" lengthAdjust="spacingAndGlyphs">EXP03</text>
<line x1="598.1" y1="917.8" x2="630.6" y2="917.8" stroke="#008000" stroke-width="2.6"/>
<text x="642.5" y="923.0" font-size="14.4" text-anchor="start" fill="#262626" stroke="#262626" stroke-width="0.35" font-weight="normal" textLength="46.0" lengthAdjust="spacingAndGlyphs">EXP04</text>
<line x1="598.1" y1="939.6" x2="630.6" y2="939.6" stroke="#ff0000" stroke-width="2.6"/>
<text x="642.5" y="944.8" font-size="14.4" text-anchor="start" fill="#262626" stroke="#262626" stroke-width="0.35" font-weight="normal" textLength="46.0" lengthAdjust="spacingAndGlyphs">EXP05</text>
<clipPath id="c_D_T"><rect x="812.8" y="576.6" width="265.1" height="383.8"/></clipPath>
<g clip-path="url(#c_D_T)" fill="none" stroke-width="2.6" stroke-linejoin="round" stroke-linecap="butt">
<path d="M913.4,577.9 L920.8,582.5 L943.1,590.9 L980.3,602.0 L1011.8,613.2 L1036.0,626.2 L1054.6,639.2 L1065.7,650.3 L1063.9,659.6 L1045.3,672.6 L1017.4,687.5 L980.3,704.2 L952.4,719.1 L935.5,730.0 L915.0,743.0 L896.0,754.2 L873.5,772.7 L853.5,795.0 L846.8,809.9 L839.9,827.5 L833.8,864.6 L830.1,901.8 L826.0,949.2" stroke="#c0c0c0"/>
<path d="M892.9,577.9 L896.6,583.4 L915.2,589.0 L946.8,596.4 L965.4,605.7 L980.3,613.2 L993.3,624.3 L999.8,635.5 L1002.6,642.9 L1007.2,655.9 L1004.4,672.6 L997.0,685.6 L985.8,696.8 L961.7,707.9 L943.1,721.0 L933.8,730.0 L913.4,743.0 L894.8,754.2 L872.5,772.7 L853.0,795.0 L846.5,809.9 L840.9,827.5 L834.4,864.6 L830.7,901.8 L826.0,949.2" stroke="#000000"/>
<path d="M884.5,577.9 L888.3,584.4 L905.9,589.9 L943.1,598.3 L948.7,602.9 L963.5,613.2 L972.8,626.2 L984.0,639.2 L992.3,655.9 L989.5,670.8 L978.4,687.5 L961.7,700.5 L933.8,717.2 L919.0,730.0 L897.5,743.9 L877.0,757.9 L858.5,774.6 L842.0,796.9 L838.5,809.9 L835.7,825.6 L830.8,860.9 L827.9,901.8 L825.5,949.2" stroke="#ee82ee"/>
<path d="M879.0,577.9 L884.5,585.3 L905.9,590.9 L931.9,598.3 L943.1,609.5 L961.7,622.5 L976.5,635.5 L987.7,644.8 L997.0,652.2 L1000.7,670.8 L989.5,685.6 L971.0,698.7 L943.1,713.5 L915.2,730.0 L894.8,743.0 L876.2,756.0 L857.6,772.7 L840.9,795.0 L837.2,809.9 L833.8,825.6 L829.7,860.9 L827.5,901.8 L825.1,949.2" stroke="#0000ff"/>
<path d="M883.6,577.9 L887.3,584.4 L905.9,589.9 L943.1,598.3 L946.8,603.9 L961.7,618.7 L980.3,633.6 L987.7,646.6 L987.7,659.6 L984.0,672.6 L967.2,691.2 L943.1,709.8 L919.9,730.0 L898.5,743.9 L878.0,757.9 L859.5,774.6 L842.7,796.9 L839.0,809.9 L835.3,825.6 L830.7,860.9 L827.9,901.8 L825.5,949.2" stroke="#008000"/>
<path d="M883.6,577.9 L887.3,584.4 L905.9,589.9 L943.1,597.4 L944.9,603.9 L948.7,616.9 L958.0,628.0 L967.2,637.3 L973.7,648.5 L971.0,659.6 L971.0,670.8 L961.7,685.6 L948.7,696.8 L924.5,713.5 L902.2,730.0 L885.5,741.2 L868.8,754.2 L852.0,772.7 L839.0,795.0 L835.3,809.9 L832.5,825.6 L828.8,860.9 L826.9,901.8 L824.5,949.2" stroke="#ff0000"/>
</g>
<rect x="812.8" y="576.6" width="265.1" height="383.8" fill="none" stroke="#555555" stroke-width="2.0"/>
<line x1="805.9" y1="576.6" x2="812.8" y2="576.6" stroke="#555555" stroke-width="2.0"/>
<text x="798.7" y="582.9" font-size="17.6" text-anchor="end" fill="#262626" stroke="#262626" stroke-width="0.35" font-weight="normal" textLength="11.2" lengthAdjust="spacingAndGlyphs">0</text>
<line x1="805.9" y1="653.4" x2="812.8" y2="653.4" stroke="#555555" stroke-width="2.0"/>
<text x="798.7" y="659.7" font-size="17.6" text-anchor="end" fill="#262626" stroke="#262626" stroke-width="0.35" font-weight="normal" textLength="33.6" lengthAdjust="spacingAndGlyphs">100</text>
<line x1="805.9" y1="730.1" x2="812.8" y2="730.1" stroke="#555555" stroke-width="2.0"/>
<text x="798.7" y="736.4" font-size="17.6" text-anchor="end" fill="#262626" stroke="#262626" stroke-width="0.35" font-weight="normal" textLength="33.6" lengthAdjust="spacingAndGlyphs">200</text>
<line x1="805.9" y1="806.9" x2="812.8" y2="806.9" stroke="#555555" stroke-width="2.0"/>
<text x="798.7" y="813.2" font-size="17.6" text-anchor="end" fill="#262626" stroke="#262626" stroke-width="0.35" font-weight="normal" textLength="33.6" lengthAdjust="spacingAndGlyphs">300</text>
<line x1="805.9" y1="883.6" x2="812.8" y2="883.6" stroke="#555555" stroke-width="2.0"/>
<text x="798.7" y="889.9" font-size="17.6" text-anchor="end" fill="#262626" stroke="#262626" stroke-width="0.35" font-weight="normal" textLength="33.6" lengthAdjust="spacingAndGlyphs">400</text>
<line x1="805.9" y1="960.4" x2="812.8" y2="960.4" stroke="#555555" stroke-width="2.0"/>
<text x="798.7" y="966.7" font-size="17.6" text-anchor="end" fill="#262626" stroke="#262626" stroke-width="0.35" font-weight="normal" textLength="33.6" lengthAdjust="spacingAndGlyphs">500</text>
<line x1="816.1" y1="960.4000000000001" x2="816.1" y2="966.6" stroke="#555555" stroke-width="2.0"/>
<text x="815.7" y="984.8" font-size="17.6" text-anchor="middle" fill="#262626" stroke="#262626" stroke-width="0.35" font-weight="normal" textLength="28.0" lengthAdjust="spacingAndGlyphs">0.0</text>
<line x1="862.6" y1="960.4000000000001" x2="862.6" y2="966.6" stroke="#555555" stroke-width="2.0"/>
<text x="862.2" y="984.8" font-size="17.6" text-anchor="middle" fill="#262626" stroke="#262626" stroke-width="0.35" font-weight="normal" textLength="28.0" lengthAdjust="spacingAndGlyphs">1.0</text>
<line x1="909.1" y1="960.4000000000001" x2="909.1" y2="966.6" stroke="#555555" stroke-width="2.0"/>
<text x="908.7" y="984.8" font-size="17.6" text-anchor="middle" fill="#262626" stroke="#262626" stroke-width="0.35" font-weight="normal" textLength="28.0" lengthAdjust="spacingAndGlyphs">2.0</text>
<line x1="955.6" y1="960.4000000000001" x2="955.6" y2="966.6" stroke="#555555" stroke-width="2.0"/>
<text x="955.2" y="984.8" font-size="17.6" text-anchor="middle" fill="#262626" stroke="#262626" stroke-width="0.35" font-weight="normal" textLength="28.0" lengthAdjust="spacingAndGlyphs">3.0</text>
<line x1="1002.1" y1="960.4000000000001" x2="1002.1" y2="966.6" stroke="#555555" stroke-width="2.0"/>
<text x="1001.7" y="984.8" font-size="17.6" text-anchor="middle" fill="#262626" stroke="#262626" stroke-width="0.35" font-weight="normal" textLength="28.0" lengthAdjust="spacingAndGlyphs">4.0</text>
<line x1="1048.5" y1="960.4000000000001" x2="1048.5" y2="966.6" stroke="#555555" stroke-width="2.0"/>
<text x="1048.1" y="984.8" font-size="17.6" text-anchor="middle" fill="#262626" stroke="#262626" stroke-width="0.35" font-weight="normal" textLength="28.0" lengthAdjust="spacingAndGlyphs">5.0</text>
<text x="945.4" y="555.2" font-size="17.6" text-anchor="middle" fill="#262626" stroke="#262626" stroke-width="0.35" font-weight="normal" textLength="97.5" lengthAdjust="spacingAndGlyphs">RMSE [ ° C]</text>
<text x="0" y="0" font-size="17.6" fill="#262626" stroke="#262626" stroke-width="0.35" text-anchor="middle" textLength="90.1" lengthAdjust="spacingAndGlyphs" transform="translate(743.0,769.3) rotate(-90)">Depth (m)</text>
<clipPath id="c_D_S"><rect x="1157.7" y="576.6" width="263.8" height="383.8"/></clipPath>
<g clip-path="url(#c_D_S)" fill="none" stroke-width="2.6" stroke-linejoin="round" stroke-linecap="butt">
<path d="M1408.9,577.9 L1407.0,581.6 L1343.8,586.2 L1310.4,592.7 L1299.2,602.0 L1295.5,618.7 L1278.8,633.6 L1263.9,650.3 L1241.6,668.9 L1228.6,683.8 L1223.0,694.9 L1206.3,711.7 L1187.7,732.1 L1180.3,750.7 L1177.5,768.0 L1174.7,794.0 L1172.9,827.5 L1172.9,879.5 L1174.4,949.2" stroke="#c0c0c0"/>
<path d="M1394.0,577.9 L1390.3,580.6 L1343.8,586.2 L1291.8,591.8 L1293.7,596.4 L1301.1,602.0 L1288.1,613.2 L1273.2,631.8 L1256.5,641.0 L1249.1,650.3 L1237.9,668.9 L1228.6,683.8 L1223.0,694.9 L1206.3,711.7 L1187.7,732.1 L1180.3,750.7 L1177.5,768.0 L1174.7,794.0 L1172.9,827.5 L1172.9,879.5 L1174.4,949.2" stroke="#000000"/>
<path d="M1375.4,577.9 L1371.7,580.6 L1343.8,585.3 L1288.1,589.9 L1276.9,593.7 L1273.2,600.2 L1276.9,603.9 L1269.5,615.0 L1263.9,624.3 L1249.1,637.3 L1236.1,654.1 L1228.6,674.5 L1217.5,693.1 L1204.5,706.1 L1185.9,728.4 L1178.4,750.7 L1177.5,768.0 L1174.7,794.0 L1172.9,827.5 L1172.9,879.5 L1174.4,949.2" stroke="#ee82ee"/>
<path d="M1405.2,577.9 L1403.3,580.6 L1343.8,585.3 L1288.1,589.9 L1276.9,593.7 L1273.2,600.2 L1269.5,605.7 L1262.1,613.2 L1261.1,624.3 L1254.6,633.6 L1241.6,644.8 L1236.1,659.6 L1232.3,674.5 L1221.2,689.4 L1204.5,706.1 L1185.9,728.4 L1178.4,750.7 L1177.5,768.0 L1175.1,794.0 L1173.2,827.5 L1173.1,879.5 L1174.4,949.2" stroke="#0000ff"/>
<path d="M1407.0,577.9 L1405.2,581.6 L1343.8,585.3 L1291.8,589.9 L1278.8,593.7 L1274.1,598.3 L1275.1,602.0 L1269.5,605.7 L1252.8,613.2 L1249.1,620.6 L1247.2,633.6 L1236.1,648.5 L1224.9,663.3 L1213.8,687.5 L1200.7,706.1 L1184.0,728.4 L1178.4,747.0 L1176.6,768.0 L1174.7,794.0 L1172.9,827.5 L1172.9,879.5 L1174.4,949.2" stroke="#008000"/>
<path d="M1381.0,577.5 L1373.6,580.6 L1325.3,584.4 L1288.1,589.0 L1289.0,596.4 L1278.8,602.9 L1263.9,606.7 L1250.9,612.2 L1237.9,625.2 L1235.1,639.2 L1224.9,657.8 L1211.9,678.2 L1202.6,694.9 L1193.3,709.8 L1182.2,732.1 L1177.5,747.0 L1175.7,768.0 L1174.4,794.0 L1172.9,827.5 L1172.9,879.5 L1174.4,949.2" stroke="#ff0000"/>
</g>
<rect x="1157.7" y="576.6" width="263.8" height="383.8" fill="none" stroke="#555555" stroke-width="2.0"/>
<line x1="1150.8" y1="576.6" x2="1157.7" y2="576.6" stroke="#555555" stroke-width="2.0"/>
<text x="1143.6" y="582.9" font-size="17.6" text-anchor="end" fill="#262626" stroke="#262626" stroke-width="0.35" font-weight="normal" textLength="11.2" lengthAdjust="spacingAndGlyphs">0</text>
<line x1="1150.8" y1="653.4" x2="1157.7" y2="653.4" stroke="#555555" stroke-width="2.0"/>
<text x="1143.6" y="659.7" font-size="17.6" text-anchor="end" fill="#262626" stroke="#262626" stroke-width="0.35" font-weight="normal" textLength="33.6" lengthAdjust="spacingAndGlyphs">100</text>
<line x1="1150.8" y1="730.1" x2="1157.7" y2="730.1" stroke="#555555" stroke-width="2.0"/>
<text x="1143.6" y="736.4" font-size="17.6" text-anchor="end" fill="#262626" stroke="#262626" stroke-width="0.35" font-weight="normal" textLength="33.6" lengthAdjust="spacingAndGlyphs">200</text>
<line x1="1150.8" y1="806.9" x2="1157.7" y2="806.9" stroke="#555555" stroke-width="2.0"/>
<text x="1143.6" y="813.2" font-size="17.6" text-anchor="end" fill="#262626" stroke="#262626" stroke-width="0.35" font-weight="normal" textLength="33.6" lengthAdjust="spacingAndGlyphs">300</text>
<line x1="1150.8" y1="883.6" x2="1157.7" y2="883.6" stroke="#555555" stroke-width="2.0"/>
<text x="1143.6" y="889.9" font-size="17.6" text-anchor="end" fill="#262626" stroke="#262626" stroke-width="0.35" font-weight="normal" textLength="33.6" lengthAdjust="spacingAndGlyphs">400</text>
<line x1="1150.8" y1="960.4" x2="1157.7" y2="960.4" stroke="#555555" stroke-width="2.0"/>
<text x="1143.6" y="966.7" font-size="17.6" text-anchor="end" fill="#262626" stroke="#262626" stroke-width="0.35" font-weight="normal" textLength="33.6" lengthAdjust="spacingAndGlyphs">500</text>
<line x1="1157.7" y1="960.4000000000001" x2="1157.7" y2="966.6" stroke="#555555" stroke-width="2.0"/>
<text x="1157.3" y="984.8" font-size="17.6" text-anchor="middle" fill="#262626" stroke="#262626" stroke-width="0.35" font-weight="normal" textLength="28.0" lengthAdjust="spacingAndGlyphs">0.0</text>
<line x1="1205.4" y1="960.4000000000001" x2="1205.4" y2="966.6" stroke="#555555" stroke-width="2.0"/>
<text x="1205.0" y="984.8" font-size="17.6" text-anchor="middle" fill="#262626" stroke="#262626" stroke-width="0.35" font-weight="normal" textLength="28.0" lengthAdjust="spacingAndGlyphs">0.1</text>
<line x1="1253.2" y1="960.4000000000001" x2="1253.2" y2="966.6" stroke="#555555" stroke-width="2.0"/>
<text x="1252.8" y="984.8" font-size="17.6" text-anchor="middle" fill="#262626" stroke="#262626" stroke-width="0.35" font-weight="normal" textLength="28.0" lengthAdjust="spacingAndGlyphs">0.2</text>
<line x1="1300.9" y1="960.4000000000001" x2="1300.9" y2="966.6" stroke="#555555" stroke-width="2.0"/>
<text x="1300.5" y="984.8" font-size="17.6" text-anchor="middle" fill="#262626" stroke="#262626" stroke-width="0.35" font-weight="normal" textLength="28.0" lengthAdjust="spacingAndGlyphs">0.3</text>
<line x1="1348.7" y1="960.4000000000001" x2="1348.7" y2="966.6" stroke="#555555" stroke-width="2.0"/>
<text x="1348.3" y="984.8" font-size="17.6" text-anchor="middle" fill="#262626" stroke="#262626" stroke-width="0.35" font-weight="normal" textLength="28.0" lengthAdjust="spacingAndGlyphs">0.4</text>
<line x1="1396.4" y1="960.4000000000001" x2="1396.4" y2="966.6" stroke="#555555" stroke-width="2.0"/>
<text x="1396.0" y="984.8" font-size="17.6" text-anchor="middle" fill="#262626" stroke="#262626" stroke-width="0.35" font-weight="normal" textLength="28.0" lengthAdjust="spacingAndGlyphs">0.5</text>
<text x="1289.1" y="555.2" font-size="17.6" text-anchor="middle" fill="#262626" stroke="#262626" stroke-width="0.35" font-weight="normal" textLength="105" lengthAdjust="spacingAndGlyphs">RMSE [psu]</text>
<rect x="1308.9" y="818.3" width="104.7" height="133.7" rx="3" ry="3" fill="#ffffff" fill-opacity="0.8" stroke="#d8d8d8" stroke-width="1.7"/>
<line x1="1315.0" y1="830.4" x2="1347.5" y2="830.4" stroke="#c0c0c0" stroke-width="2.6"/>
<text x="1359.4" y="835.6" font-size="14.4" text-anchor="start" fill="#262626" stroke="#262626" stroke-width="0.35" font-weight="normal" textLength="28.9" lengthAdjust="spacingAndGlyphs">CTR</text>
<line x1="1315.0" y1="852.2" x2="1347.5" y2="852.2" stroke="#000000" stroke-width="2.6"/>
<text x="1359.4" y="857.4" font-size="14.4" text-anchor="start" fill="#262626" stroke="#262626" stroke-width="0.35" font-weight="normal" textLength="46.0" lengthAdjust="spacingAndGlyphs">EXP01</text>
<line x1="1315.0" y1="874.1" x2="1347.5" y2="874.1" stroke="#ee82ee" stroke-width="2.6"/>
<text x="1359.4" y="879.3" font-size="14.4" text-anchor="start" fill="#262626" stroke="#262626" stroke-width="0.35" font-weight="normal" textLength="46.0" lengthAdjust="spacingAndGlyphs">EXP02</text>
<line x1="1315.0" y1="895.9" x2="1347.5" y2="895.9" stroke="#0000ff" stroke-width="2.6"/>
<text x="1359.4" y="901.1" font-size="14.4" text-anchor="start" fill="#262626" stroke="#262626" stroke-width="0.35" font-weight="normal" textLength="46.0" lengthAdjust="spacingAndGlyphs">EXP03</text>
<line x1="1315.0" y1="917.8" x2="1347.5" y2="917.8" stroke="#008000" stroke-width="2.6"/>
<text x="1359.4" y="923.0" font-size="14.4" text-anchor="start" fill="#262626" stroke="#262626" stroke-width="0.35" font-weight="normal" textLength="46.0" lengthAdjust="spacingAndGlyphs">EXP04</text>
<line x1="1315.0" y1="939.6" x2="1347.5" y2="939.6" stroke="#ff0000" stroke-width="2.6"/>
<text x="1359.4" y="944.8" font-size="14.4" text-anchor="start" fill="#262626" stroke="#262626" stroke-width="0.35" font-weight="normal" textLength="46.0" lengthAdjust="spacingAndGlyphs">EXP05</text>
<clipPath id="c_E_T"><rect x="85.2" y="1083.3" width="269.4" height="383.8"/></clipPath>
<g clip-path="url(#c_E_T)" fill="none" stroke-width="2.6" stroke-linejoin="round" stroke-linecap="butt">
<path d="M245.9,1083.9 L249.7,1088.7 L264.9,1096.3 L293.3,1107.6 L312.2,1117.1 L327.4,1126.5 L336.8,1139.8 L334.9,1145.5 L336.8,1162.5 L334.9,1187.1 L338.7,1211.8 L342.5,1230.7 L345.3,1249.6 L347.2,1275.0 L345.3,1293.9 L342.5,1333.7 L333.0,1369.7 L316.0,1409.4 L293.3,1455.8" stroke="#c0c0c0"/>
<path d="M194.8,1083.9 L198.6,1090.6 L217.5,1100.0 L251.6,1115.2 L270.6,1122.8 L280.0,1134.1 L281.9,1141.7 L281.0,1149.3 L282.9,1162.5 L281.0,1187.1 L281.9,1215.5 L283.8,1234.5 L285.7,1253.4 L287.6,1275.0 L287.6,1278.8 L281.9,1303.4 L274.3,1341.3 L268.7,1369.7 L261.1,1411.3 L247.8,1455.8" stroke="#000000"/>
<path d="M191.0,1083.9 L194.8,1090.6 L213.8,1100.0 L249.7,1117.1 L264.9,1134.1 L278.1,1154.9 L279.1,1177.7 L283.8,1200.4 L289.5,1219.3 L293.3,1234.5 L297.1,1253.4 L299.9,1275.0 L299.9,1278.8 L299.0,1303.4 L293.3,1333.7 L283.8,1369.7 L270.6,1407.5 L250.7,1455.8" stroke="#ee82ee"/>
<path d="M192.0,1083.9 L195.8,1091.5 L217.5,1101.9 L245.9,1114.2 L259.2,1122.8 L268.7,1139.8 L271.5,1156.8 L269.6,1170.1 L269.6,1189.0 L272.4,1215.5 L274.3,1230.7 L280.0,1253.4 L281.9,1275.0 L281.9,1278.8 L280.0,1312.9 L276.2,1350.7 L274.3,1371.6 L266.8,1407.5 L251.6,1455.8" stroke="#0000ff"/>
<path d="M189.1,1083.9 L192.0,1090.6 L210.0,1101.0 L228.9,1112.3 L245.9,1126.5 L257.3,1139.8 L259.2,1154.9 L255.4,1173.9 L251.6,1189.0 L245.9,1211.8 L242.2,1232.6 L240.3,1249.6 L241.2,1275.0 L240.6,1279.7 L236.5,1312.9 L232.7,1369.7 L225.1,1411.3 L215.6,1455.8" stroke="#008000"/>
<path d="M186.3,1083.9 L189.1,1090.6 L202.4,1100.0 L217.5,1109.5 L228.9,1120.9 L242.2,1139.8 L245.9,1162.5 L240.3,1183.4 L236.5,1206.1 L230.8,1226.9 L227.0,1249.6 L228.9,1275.0 L229.8,1303.4 L228.9,1333.7 L225.1,1369.7 L219.4,1411.3 L210.9,1455.8" stroke="#ff0000"/>
</g>
<rect x="85.2" y="1083.3" width="269.4" height="383.8" fill="none" stroke="#555555" stroke-width="2.0"/>
<line x1="78.3" y1="1083.3" x2="85.2" y2="1083.3" stroke="#555555" stroke-width="2.0"/>
<text x="71.1" y="1089.6" font-size="17.6" text-anchor="end" fill="#262626" stroke="#262626" stroke-width="0.35" font-weight="normal" textLength="11.2" lengthAdjust="spacingAndGlyphs">0</text>
<line x1="78.3" y1="1160.1" x2="85.2" y2="1160.1" stroke="#555555" stroke-width="2.0"/>
<text x="71.1" y="1166.4" font-size="17.6" text-anchor="end" fill="#262626" stroke="#262626" stroke-width="0.35" font-weight="normal" textLength="33.6" lengthAdjust="spacingAndGlyphs">100</text>
<line x1="78.3" y1="1236.8" x2="85.2" y2="1236.8" stroke="#555555" stroke-width="2.0"/>
<text x="71.1" y="1243.1" font-size="17.6" text-anchor="end" fill="#262626" stroke="#262626" stroke-width="0.35" font-weight="normal" textLength="33.6" lengthAdjust="spacingAndGlyphs">200</text>
<line x1="78.3" y1="1313.6" x2="85.2" y2="1313.6" stroke="#555555" stroke-width="2.0"/>
<text x="71.1" y="1319.9" font-size="17.6" text-anchor="end" fill="#262626" stroke="#262626" stroke-width="0.35" font-weight="normal" textLength="33.6" lengthAdjust="spacingAndGlyphs">300</text>
<line x1="78.3" y1="1390.3" x2="85.2" y2="1390.3" stroke="#555555" stroke-width="2.0"/>
<text x="71.1" y="1396.6" font-size="17.6" text-anchor="end" fill="#262626" stroke="#262626" stroke-width="0.35" font-weight="normal" textLength="33.6" lengthAdjust="spacingAndGlyphs">400</text>
<line x1="78.3" y1="1467.1" x2="85.2" y2="1467.1" stroke="#555555" stroke-width="2.0"/>
<text x="71.1" y="1473.4" font-size="17.6" text-anchor="end" fill="#262626" stroke="#262626" stroke-width="0.35" font-weight="normal" textLength="33.6" lengthAdjust="spacingAndGlyphs">500</text>
<line x1="85.2" y1="1467.1" x2="85.2" y2="1473.3" stroke="#555555" stroke-width="2.0"/>
<text x="84.8" y="1491.5" font-size="17.6" text-anchor="middle" fill="#262626" stroke="#262626" stroke-width="0.35" font-weight="normal" textLength="28.0" lengthAdjust="spacingAndGlyphs">0.0</text>
<line x1="164.4" y1="1467.1" x2="164.4" y2="1473.3" stroke="#555555" stroke-width="2.0"/>
<text x="164.0" y="1491.5" font-size="17.6" text-anchor="middle" fill="#262626" stroke="#262626" stroke-width="0.35" font-weight="normal" textLength="28.0" lengthAdjust="spacingAndGlyphs">1.0</text>
<line x1="243.5" y1="1467.1" x2="243.5" y2="1473.3" stroke="#555555" stroke-width="2.0"/>
<text x="243.1" y="1491.5" font-size="17.6" text-anchor="middle" fill="#262626" stroke="#262626" stroke-width="0.35" font-weight="normal" textLength="28.0" lengthAdjust="spacingAndGlyphs">2.0</text>
<line x1="322.7" y1="1467.1" x2="322.7" y2="1473.3" stroke="#555555" stroke-width="2.0"/>
<text x="322.3" y="1491.5" font-size="17.6" text-anchor="middle" fill="#262626" stroke="#262626" stroke-width="0.35" font-weight="normal" textLength="28.0" lengthAdjust="spacingAndGlyphs">3.0</text>
<text x="219.9" y="1061.9" font-size="17.6" text-anchor="middle" fill="#262626" stroke="#262626" stroke-width="0.35" font-weight="normal" textLength="97.5" lengthAdjust="spacingAndGlyphs">RMSE [ ° C]</text>
<text x="0" y="0" font-size="17.6" fill="#262626" stroke="#262626" stroke-width="0.35" text-anchor="middle" textLength="90.1" lengthAdjust="spacingAndGlyphs" transform="translate(24.8,1276.0) rotate(-90)">Depth (m)</text>
<clipPath id="c_E_S"><rect x="435.95" y="1083.3" width="268.7" height="383.8"/></clipPath>
<g clip-path="url(#c_E_S)" fill="none" stroke-width="2.6" stroke-linejoin="round" stroke-linecap="butt">
<path d="M691.6,1084.5 L680.2,1090.6 L674.6,1099.1 L687.8,1103.8 L696.3,1109.5 L693.5,1119.0 L667.0,1133.2 L651.8,1156.8 L640.5,1185.2 L634.8,1215.5 L625.3,1245.8 L617.8,1275.0 L614.0,1322.3 L602.6,1354.5 L591.3,1381.0 L576.1,1411.3 L561.9,1455.8" stroke="#c0c0c0"/>
<path d="M691.6,1083.9 L684.0,1088.7 L674.6,1098.1 L676.5,1105.7 L665.1,1119.9 L644.3,1125.6 L617.8,1137.9 L600.7,1156.8 L587.5,1172.0 L585.6,1179.6 L583.7,1190.9 L587.5,1211.8 L589.4,1234.5 L589.4,1253.4 L586.5,1275.0 L585.6,1303.4 L581.8,1331.8 L566.6,1369.7 L551.5,1409.4 L543.9,1455.8" stroke="#000000"/>
<path d="M690.7,1083.9 L682.1,1088.7 L668.9,1096.3 L672.7,1101.9 L672.7,1108.6 L665.1,1119.0 L625.3,1134.1 L614.0,1149.3 L610.2,1158.7 L598.8,1173.9 L593.2,1185.2 L595.0,1196.6 L596.9,1215.5 L595.0,1234.5 L591.3,1253.4 L588.4,1275.0 L587.5,1303.4 L583.7,1331.8 L568.5,1369.7 L553.4,1407.5 L542.0,1455.8" stroke="#ee82ee"/>
<path d="M676.5,1083.9 L663.2,1088.7 L653.7,1097.2 L659.4,1102.9 L667.0,1108.6 L662.3,1118.0 L644.3,1124.7 L625.3,1133.2 L610.2,1145.5 L598.8,1162.5 L591.3,1172.0 L589.4,1179.6 L583.7,1189.0 L582.7,1215.5 L585.6,1234.5 L587.5,1253.4 L586.0,1275.0 L584.6,1303.4 L579.0,1333.7 L564.8,1369.7 L550.6,1409.4 L539.2,1455.8" stroke="#0000ff"/>
<path d="M642.4,1083.9 L634.8,1088.7 L631.0,1098.1 L632.9,1101.0 L646.2,1107.6 L640.5,1117.1 L638.6,1119.9 L610.2,1132.2 L598.8,1145.5 L595.0,1156.8 L587.5,1170.1 L587.5,1179.6 L576.1,1190.9 L572.3,1206.1 L568.5,1226.9 L562.9,1249.6 L559.1,1275.0 L558.1,1278.8 L562.9,1303.4 L563.8,1331.8 L553.4,1369.7 L543.0,1409.4 L538.2,1455.8" stroke="#008000"/>
<path d="M646.2,1084.5 L632.9,1087.7 L617.8,1096.3 L619.7,1101.0 L629.1,1107.6 L626.3,1114.2 L626.3,1119.9 L610.2,1126.5 L596.9,1133.2 L585.6,1147.4 L579.9,1162.5 L578.0,1172.0 L579.9,1179.6 L572.3,1187.1 L568.5,1194.7 L565.7,1215.5 L561.0,1238.3 L557.2,1257.2 L554.3,1275.0 L553.4,1278.8 L559.1,1303.4 L561.0,1331.8 L549.6,1369.7 L540.1,1409.4 L535.4,1455.8" stroke="#ff0000"/>
</g>
<rect x="435.95" y="1083.3" width="268.7" height="383.8" fill="none" stroke="#555555" stroke-width="2.0"/>
<line x1="429.1" y1="1083.3" x2="435.95" y2="1083.3" stroke="#555555" stroke-width="2.0"/>
<text x="421.8" y="1089.6" font-size="17.6" text-anchor="end" fill="#262626" stroke="#262626" stroke-width="0.35" font-weight="normal" textLength="11.2" lengthAdjust="spacingAndGlyphs">0</text>
<line x1="429.1" y1="1160.1" x2="435.95" y2="1160.1" stroke="#555555" stroke-width="2.0"/>
<text x="421.8" y="1166.4" font-size="17.6" text-anchor="end" fill="#262626" stroke="#262626" stroke-width="0.35" font-weight="normal" textLength="33.6" lengthAdjust="spacingAndGlyphs">100</text>
<line x1="429.1" y1="1236.8" x2="435.95" y2="1236.8" stroke="#555555" stroke-width="2.0"/>
<text x="421.8" y="1243.1" font-size="17.6" text-anchor="end" fill="#262626" stroke="#262626" stroke-width="0.35" font-weight="normal" textLength="33.6" lengthAdjust="spacingAndGlyphs">200</text>
<line x1="429.1" y1="1313.6" x2="435.95" y2="1313.6" stroke="#555555" stroke-width="2.0"/>
<text x="421.8" y="1319.9" font-size="17.6" text-anchor="end" fill="#262626" stroke="#262626" stroke-width="0.35" font-weight="normal" textLength="33.6" lengthAdjust="spacingAndGlyphs">300</text>
<line x1="429.1" y1="1390.3" x2="435.95" y2="1390.3" stroke="#555555" stroke-width="2.0"/>
<text x="421.8" y="1396.6" font-size="17.6" text-anchor="end" fill="#262626" stroke="#262626" stroke-width="0.35" font-weight="normal" textLength="33.6" lengthAdjust="spacingAndGlyphs">400</text>
<line x1="429.1" y1="1467.1" x2="435.95" y2="1467.1" stroke="#555555" stroke-width="2.0"/>
<text x="421.8" y="1473.4" font-size="17.6" text-anchor="end" fill="#262626" stroke="#262626" stroke-width="0.35" font-weight="normal" textLength="33.6" lengthAdjust="spacingAndGlyphs">500</text>
<line x1="435.9" y1="1467.1" x2="435.9" y2="1473.3" stroke="#555555" stroke-width="2.0"/>
<text x="435.6" y="1491.5" font-size="17.6" text-anchor="middle" fill="#262626" stroke="#262626" stroke-width="0.35" font-weight="normal" textLength="28.0" lengthAdjust="spacingAndGlyphs">0.0</text>
<line x1="505.5" y1="1467.1" x2="505.5" y2="1473.3" stroke="#555555" stroke-width="2.0"/>
<text x="505.1" y="1491.5" font-size="17.6" text-anchor="middle" fill="#262626" stroke="#262626" stroke-width="0.35" font-weight="normal" textLength="28.0" lengthAdjust="spacingAndGlyphs">0.1</text>
<line x1="575.0" y1="1467.1" x2="575.0" y2="1473.3" stroke="#555555" stroke-width="2.0"/>
<text x="574.6" y="1491.5" font-size="17.6" text-anchor="middle" fill="#262626" stroke="#262626" stroke-width="0.35" font-weight="normal" textLength="28.0" lengthAdjust="spacingAndGlyphs">0.2</text>
<line x1="644.6" y1="1467.1" x2="644.6" y2="1473.3" stroke="#555555" stroke-width="2.0"/>
<text x="644.2" y="1491.5" font-size="17.6" text-anchor="middle" fill="#262626" stroke="#262626" stroke-width="0.35" font-weight="normal" textLength="28.0" lengthAdjust="spacingAndGlyphs">0.3</text>
<text x="569.8" y="1061.9" font-size="17.6" text-anchor="middle" fill="#262626" stroke="#262626" stroke-width="0.35" font-weight="normal" textLength="105" lengthAdjust="spacingAndGlyphs">RMSE [psu]</text>
<rect x="592.0" y="1325.0" width="104.7" height="133.7" rx="3" ry="3" fill="#ffffff" fill-opacity="0.8" stroke="#d8d8d8" stroke-width="1.7"/>
<line x1="598.1" y1="1337.1" x2="630.6" y2="1337.1" stroke="#c0c0c0" stroke-width="2.6"/>
<text x="642.5" y="1342.3" font-size="14.4" text-anchor="start" fill="#262626" stroke="#262626" stroke-width="0.35" font-weight="normal" textLength="28.9" lengthAdjust="spacingAndGlyphs">CTR</text>
<line x1="598.1" y1="1358.9" x2="630.6" y2="1358.9" stroke="#000000" stroke-width="2.6"/>
<text x="642.5" y="1364.1" font-size="14.4" text-anchor="start" fill="#262626" stroke="#262626" stroke-width="0.35" font-weight="normal" textLength="46.0" lengthAdjust="spacingAndGlyphs">EXP01</text>
<line x1="598.1" y1="1380.8" x2="630.6" y2="1380.8" stroke="#ee82ee" stroke-width="2.6"/>
<text x="642.5" y="1386.0" font-size="14.4" text-anchor="start" fill="#262626" stroke="#262626" stroke-width="0.35" font-weight="normal" textLength="46.0" lengthAdjust="spacingAndGlyphs">EXP02</text>
<line x1="598.1" y1="1402.6" x2="630.6" y2="1402.6" stroke="#0000ff" stroke-width="2.6"/>
<text x="642.5" y="1407.8" font-size="14.4" text-anchor="start" fill="#262626" stroke="#262626" stroke-width="0.35" font-weight="normal" textLength="46.0" lengthAdjust="spacingAndGlyphs">EXP03</text>
<line x1="598.1" y1="1424.5" x2="630.6" y2="1424.5" stroke="#008000" stroke-width="2.6"/>
<text x="642.5" y="1429.7" font-size="14.4" text-anchor="start" fill="#262626" stroke="#262626" stroke-width="0.35" font-weight="normal" textLength="46.0" lengthAdjust="spacingAndGlyphs">EXP04</text>
<line x1="598.1" y1="1446.3" x2="630.6" y2="1446.3" stroke="#ff0000" stroke-width="2.6"/>
<text x="642.5" y="1451.5" font-size="14.4" text-anchor="start" fill="#262626" stroke="#262626" stroke-width="0.35" font-weight="normal" textLength="46.0" lengthAdjust="spacingAndGlyphs">EXP05</text>
</svg>
</body></html>
